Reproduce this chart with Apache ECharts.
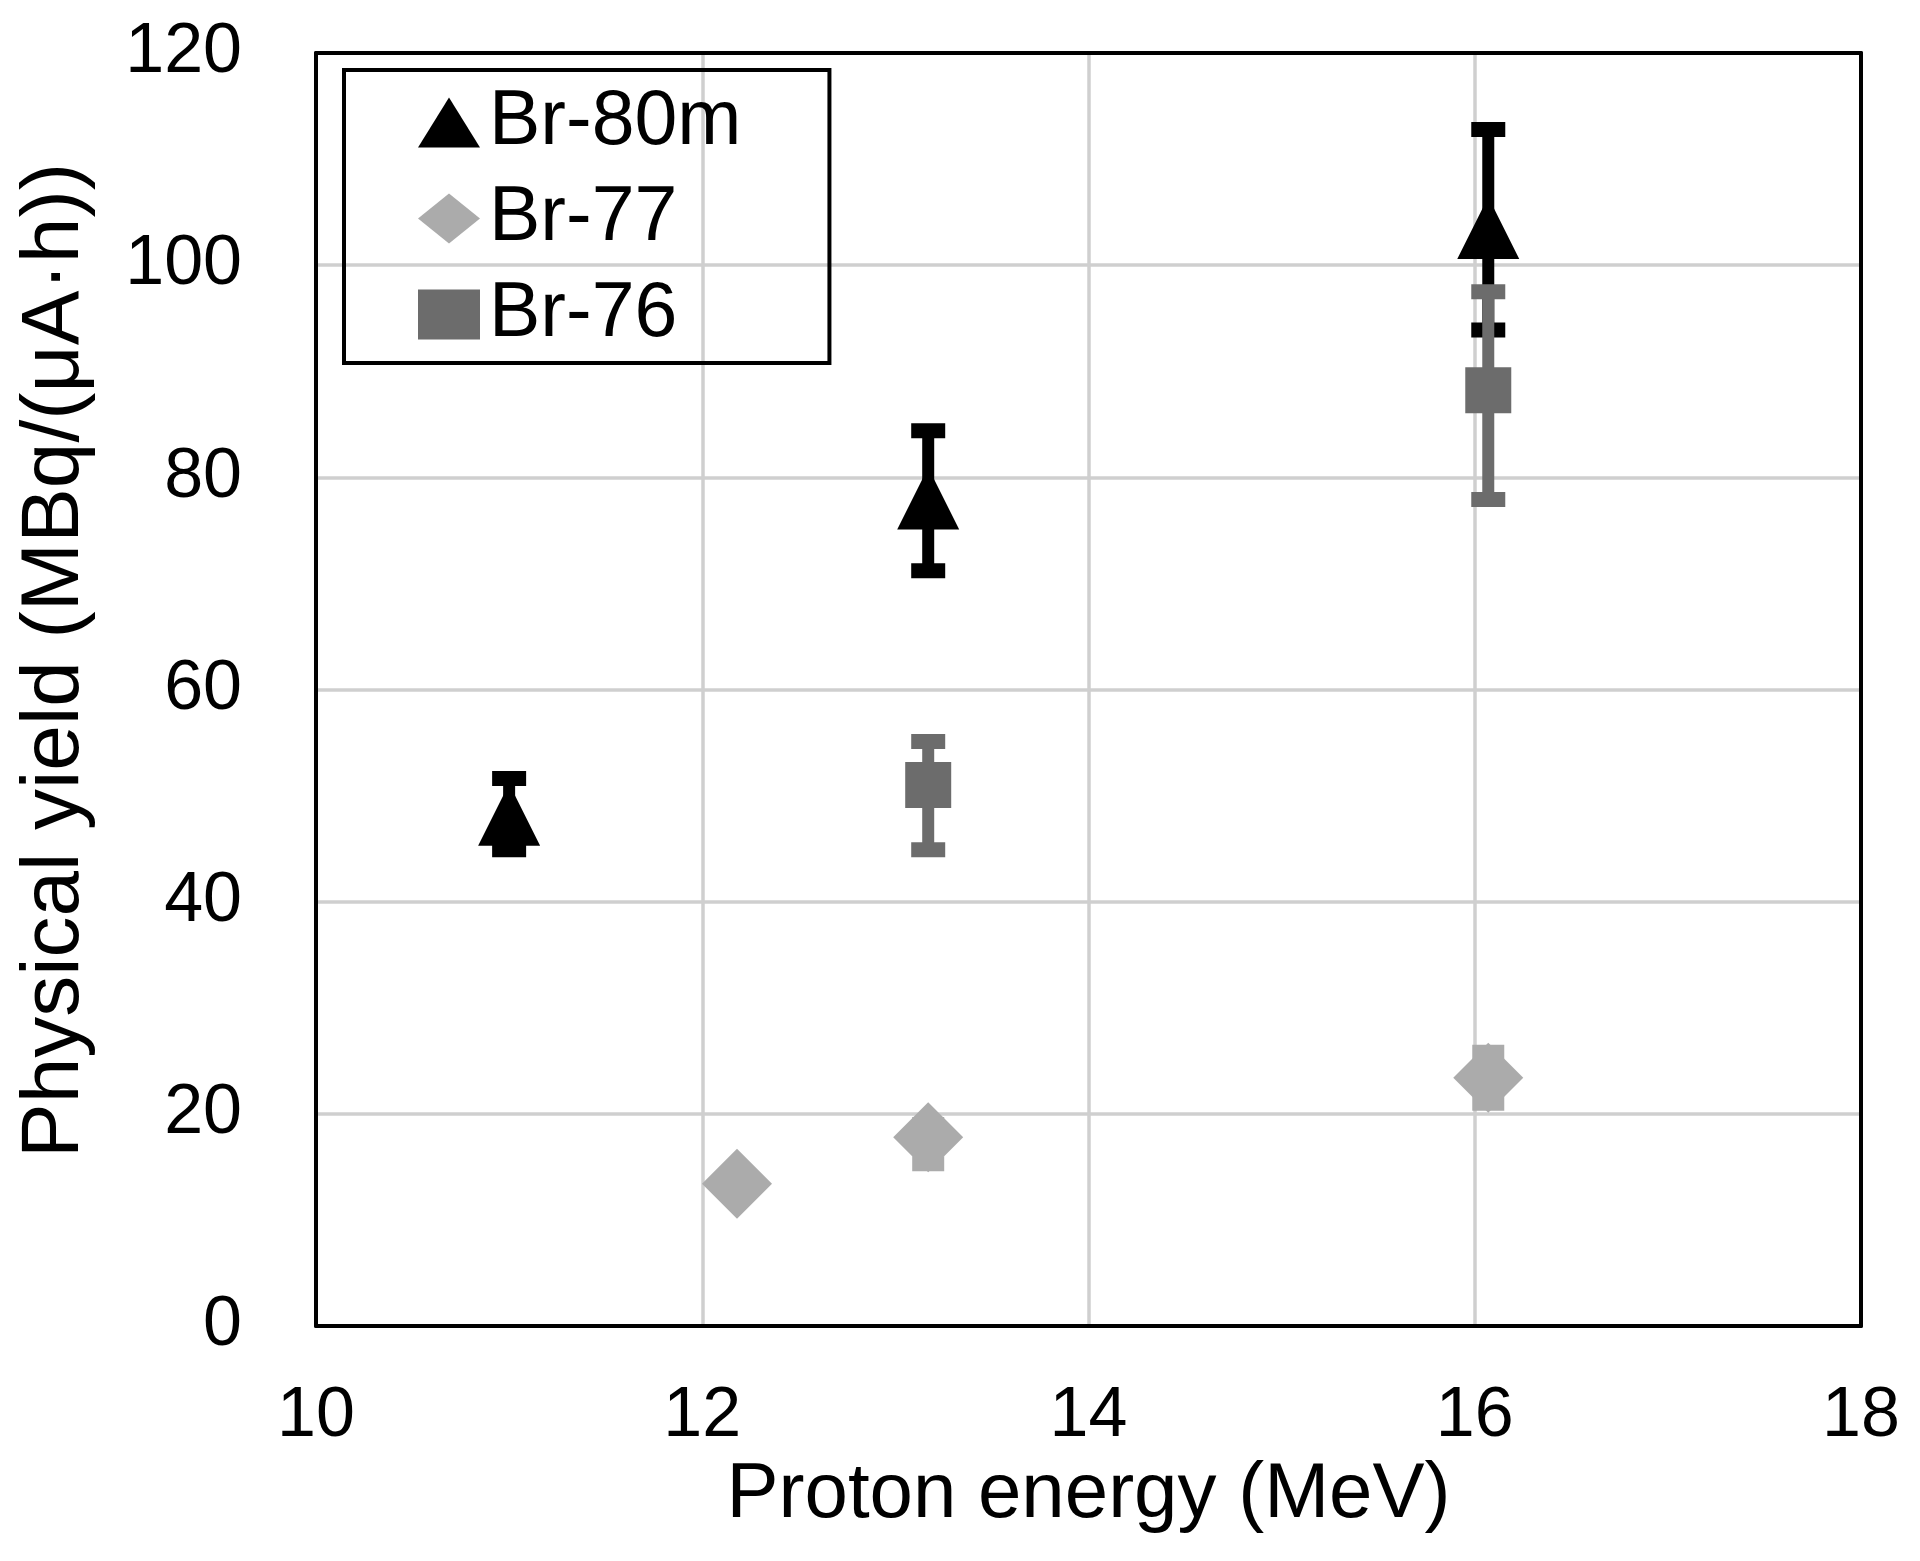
<!DOCTYPE html>
<html>
<head>
<meta charset="utf-8">
<script src="https://cdn.jsdelivr.net/npm/echarts@6/dist/echarts.min.js"></script>
<style>
html,body{margin:0;padding:0;background:#fff;}
#chart{width:1920px;height:1561px;}
</style>
</head>
<body>
<div id="chart"></div>
<script>
// ---- data ----
const seriesNames = ['Br-80m', 'Br-77', 'Br-76'];
const xTicks = [10, 12, 14, 16, 18];
const yTicks = [0, 20, 40, 60, 80, 100, 120];

const br80mX    = [11.0, 13.17, 16.07];
const br80mY    = [48.2, 78.0, 103.5];
const br80mLow  = [44.9, 71.2, 93.9];
const br80mHigh = [51.6, 84.4, 112.8];

const br77X    = [12.18, 13.17, 16.07];
const br77Y    = [13.4, 17.8, 23.4];
const br77Low  = [null, 15.3, 21.0];
const br77High = [null, 19.0, 25.8];

const br76X    = [13.17, 16.07];
const br76Y    = [51.0, 88.2];
const br76Low  = [44.9, 77.9];
const br76High = [55.1, 97.5];

// ---- helpers ----
function pts(xs, ys) { return xs.map((x, i) => [x, ys[i]]); }
function errs(xs, lo, hi) {
  const out = [];
  xs.forEach((x, i) => { if (lo[i] != null && hi[i] != null) out.push([x, lo[i], hi[i]]); });
  return out;
}
function errRender(color, lw, capW, capT) {
  return function (params, api) {
    const x = api.value(0), lo = api.value(1), hi = api.value(2);
    const pL = api.coord([x, lo]), pH = api.coord([x, hi]);
    return {
      type: 'group',
      children: [
        { type: 'line', shape: { x1: pL[0], y1: pL[1], x2: pH[0], y2: pH[1] }, style: { stroke: color, lineWidth: lw } },
        { type: 'line', shape: { x1: pL[0] - capW / 2, y1: pL[1], x2: pL[0] + capW / 2, y2: pL[1] }, style: { stroke: color, lineWidth: capT } },
        { type: 'line', shape: { x1: pH[0] - capW / 2, y1: pH[1], x2: pH[0] + capW / 2, y2: pH[1] }, style: { stroke: color, lineWidth: capT } }
      ]
    };
  };
}

const FONT = '"Liberation Sans", Arial, Helvetica, sans-serif';
const C80 = '#000000', C77 = '#ababab', C76 = '#6c6c6c';
const GRIDC = '#cfcfcf';

const xMin = xTicks[0], xMax = xTicks[xTicks.length - 1];
const yMin = yTicks[0], yMax = yTicks[yTicks.length - 1];

const chart = echarts.init(document.getElementById('chart'));
chart.setOption({
  backgroundColor: '#ffffff',
  animation: false,
  textStyle: { fontFamily: FONT },
  grid: {
    left: 316, right: 59, top: 53, bottom: 235,
    show: false
  },
  legend: {
    orient: 'vertical',
    left: 344, top: 70,
    selectedMode: false,
    borderColor: '#000', borderWidth: 4,
    padding: [14, 88, 10, 74],
    itemWidth: 62, itemHeight: 50, itemGap: 19,
    textStyle: { fontSize: 77, color: '#000', fontFamily: FONT, padding: [0, 0, 0, 4] },
    data: [
      { name: 'Br-80m', icon: 'triangle' },
      { name: 'Br-77', icon: 'diamond' },
      { name: 'Br-76', icon: 'rect' }
    ]
  },
  xAxis: [{
    type: 'value', min: xMin, max: xMax, interval: 2,
    name: 'Proton energy (MeV)', nameLocation: 'middle', nameGap: 130,
    nameTextStyle: { fontSize: 78, color: '#000', fontFamily: FONT },
    axisLine: { show: true, lineStyle: { color: '#000', width: 4 } },
    axisTick: { show: false },
    axisLabel: { fontSize: 70, color: '#000', margin: 56, fontFamily: FONT },
    splitLine: { show: true, lineStyle: { color: GRIDC, width: 3.5 } }
  }, {
    type: 'value', position: 'top', min: xMin, max: xMax, interval: 2,
    axisLine: { show: true, onZero: false, lineStyle: { color: '#000', width: 4 } },
    axisTick: { show: false }, axisLabel: { show: false }, splitLine: { show: false }
  }],
  yAxis: [{
    type: 'value', min: yMin, max: yMax, interval: 20,
    name: 'Physical yield (MBq/(μA·h))', nameLocation: 'middle', nameGap: 220,
    nameTextStyle: { fontSize: 82, color: '#000', fontFamily: FONT, padding: [0, 0, 0, 58] },
    axisLine: { show: true, lineStyle: { color: '#000', width: 4 } },
    axisTick: { show: false },
    axisLabel: { fontSize: 70, color: '#000', margin: 74, fontFamily: FONT },
    splitLine: { show: true, lineStyle: { color: GRIDC, width: 3.5 } }
  }, {
    type: 'value', position: 'right', min: yMin, max: yMax, interval: 20,
    axisLine: { show: true, onZero: false, lineStyle: { color: '#000', width: 4 } },
    axisTick: { show: false }, axisLabel: { show: false }, splitLine: { show: false }
  }],
  series: [
    {
      name: 'Br-80m err', type: 'custom', z: 2,
      renderItem: errRender(C80, 12, 34, 15),
      encode: { x: 0, y: [1, 2] },
      data: errs(br80mX, br80mLow, br80mHigh)
    },
    {
      name: seriesNames[0], type: 'scatter', z: 3,
      symbol: 'triangle', symbolSize: [62, 62],
      itemStyle: { color: C80, opacity: 1 },
      data: pts(br80mX, br80mY)
    },
    {
      name: 'Br-77 err', type: 'custom', z: 4,
      renderItem: errRender(C77, 12, 32, 15),
      encode: { x: 0, y: [1, 2] },
      data: errs(br77X, br77Low, br77High)
    },
    {
      name: seriesNames[1], type: 'scatter', z: 5,
      symbol: 'diamond', symbolSize: [70, 70],
      itemStyle: { color: C77, opacity: 1 },
      data: pts(br77X, br77Y)
    },
    {
      name: 'Br-76 err', type: 'custom', z: 6,
      renderItem: errRender(C76, 12, 34, 15),
      encode: { x: 0, y: [1, 2] },
      data: errs(br76X, br76Low, br76High)
    },
    {
      name: seriesNames[2], type: 'scatter', z: 7,
      symbol: 'rect', symbolSize: [46, 46],
      itemStyle: { color: C76, opacity: 1 },
      data: pts(br76X, br76Y)
    }
  ]
});
</script>
</body>
</html>
